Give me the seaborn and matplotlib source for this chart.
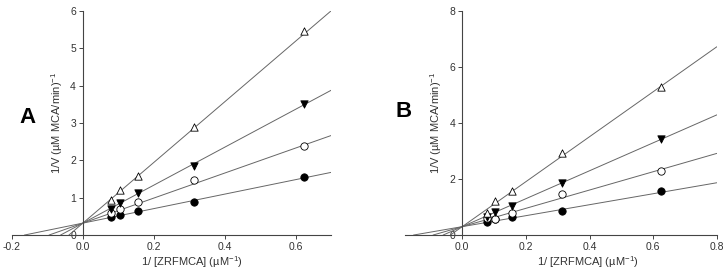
import numpy as np
import pandas as pd
import seaborn as sns
from matplotlib import pyplot as plt
from matplotlib.ticker import FormatStrFormatter

# 1/[S] values shared by both panels
inv_s = [0.078, 0.104, 0.156, 0.3125, 0.625]
series = ["filled_circle", "open_circle", "filled_down", "open_up"]

# panel A, 1/V
a_filled_circle = [0.48, 0.55, 0.65, 0.88, 1.56]
a_open_circle = [0.58, 0.70, 0.88, 1.47, 2.39]
a_filled_down = [0.69, 0.87, 1.12, 1.86, 3.52]
a_open_up = [0.95, 1.22, 1.58, 2.90, 5.46]
a_slopes = [1.94, 3.35, 5.08, 8.12]
a_intercepts = [0.32, 0.32, 0.32, 0.32]

# panel B, 1/V
b_filled_circle = [0.48, 0.58, 0.65, 0.87, 1.57]
b_open_circle = [0.60, 0.57, 0.78, 1.48, 2.29]
b_filled_down = [0.65, 0.83, 1.02, 1.85, 3.42]
b_open_up = [0.80, 1.21, 1.58, 2.92, 5.27]
b_slopes = [1.96, 3.27, 4.99, 8.03]
b_intercepts = [0.30, 0.30, 0.30, 0.30]

styles = {
    "filled_circle": dict(marker="o", facecolor="black"),
    "open_circle": dict(marker="o", facecolor="white"),
    "filled_down": dict(marker="v", facecolor="black"),
    "open_up": dict(marker="^", facecolor="white"),
}

sns.set_style("ticks")
plt.rcParams["font.family"] = ["Liberation Sans", "DejaVu Sans"]
plt.rcParams["mathtext.fontset"] = "custom"
plt.rcParams["mathtext.rm"] = "Liberation Sans"

fig = plt.figure(figsize=(7.27, 2.73), dpi=100)
ax_a = fig.add_axes([0.0165, 0.139, 0.4388, 0.8205])
ax_b = fig.add_axes([0.557, 0.139, 0.429, 0.8205])

panels = [
    (ax_a, "A", [a_filled_circle, a_open_circle, a_filled_down, a_open_up],
     a_slopes, a_intercepts, (-0.2, 0.7), (0, 6), np.arange(-0.2, 0.71, 0.2),
     np.arange(0, 7, 1), 0.564, 0.038, 0.57),
    (ax_b, "B", [b_filled_circle, b_open_circle, b_filled_down, b_open_up],
     b_slopes, b_intercepts, (-0.18, 0.8), (0, 8), np.arange(0.0, 0.81, 0.2),
     np.arange(0, 9, 2), 0.587, 0.555, 0.59),
]

for ax, letter, ys, slopes, icepts, xlim, ylim, xt, yt, xlab_x, lx, ly in panels:
    ax.set_xlim(*xlim)
    ax.set_ylim(*ylim)
    for m, b in zip(slopes, icepts):
        ax.axline((0, b), slope=m, color="#666666", lw=0.7, zorder=1)
    df = pd.DataFrame({"x": inv_s * 4,
                       "y": sum(ys, []),
                       "s": np.repeat(series, len(inv_s))})
    for name in series:
        st = styles[name]
        sns.scatterplot(data=df[df["s"] == name], x="x", y="y", ax=ax,
                        marker=st["marker"], color=st["facecolor"],
                        edgecolor="black", linewidth=0.6, s=28, zorder=3,
                        legend=False)
    sns.despine(ax=ax)
    ax.spines["left"].set_position(("data", 0))
    for sp in ["left", "bottom"]:
        ax.spines[sp].set_color("#444444")
        ax.spines[sp].set_linewidth(0.8)
    ax.set_xticks(xt)
    ax.set_yticks(yt)
    ax.xaxis.set_major_formatter(FormatStrFormatter("%.1f"))
    ax.tick_params(length=3, width=0.7, color="#444444", labelsize=7.5,
                   labelcolor="#333333", pad=2)
    ax.set_xlabel("1/ [ZRFMCA] (µM$^{-1}$)", fontsize=8, color="#333333")
    ax.xaxis.set_label_coords(xlab_x, -0.085)
    ax.set_ylabel("1/V (µM MCA/min)$^{-1}$", fontsize=8, color="#333333",
                  labelpad=4)
    ax.set_facecolor("white")
    fig.text(lx, ly, letter, fontsize=16, fontweight="bold", color="black",
             ha="center", va="center")

fig.savefig("out.png", dpi=100, facecolor="white")
